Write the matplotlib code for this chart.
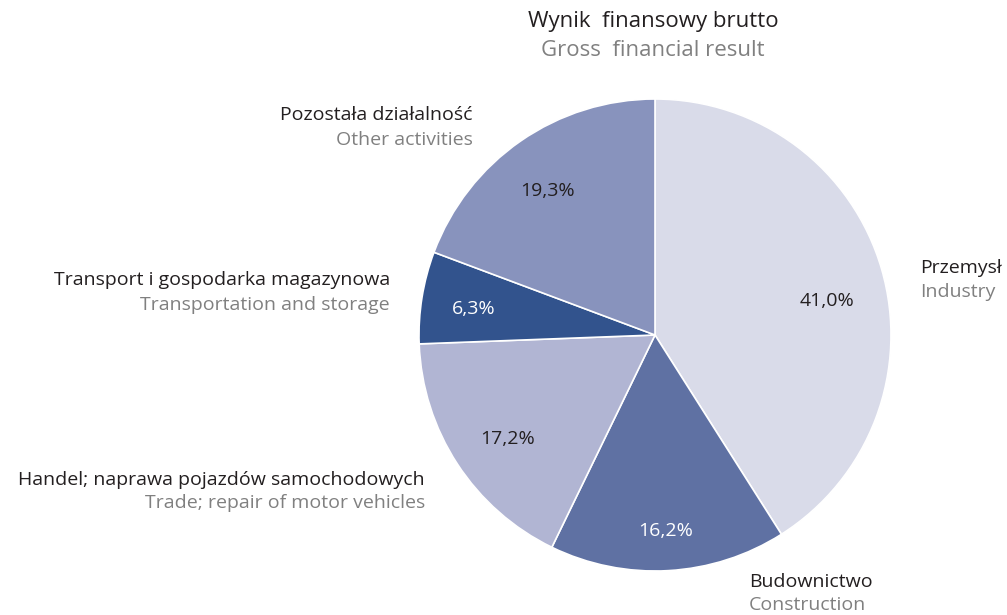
import matplotlib
matplotlib.use("Agg")
import matplotlib.pyplot as plt

categories_pl = ["Przemysł", "Budownictwo", "Handel; naprawa pojazdów samochodowych",
                 "Transport i gospodarka magazynowa", "Pozostała działalność"]
categories_en = ["Industry", "Construction", "Trade; repair of motor vehicles",
                 "Transportation and storage", "Other activities"]
values = [41.0, 16.2, 17.2, 6.3, 19.3]
pct_labels = ["41,0%", "16,2%", "17,2%", "6,3%", "19,3%"]
colors = ["#d9dbe9", "#5f71a3", "#b1b5d3", "#32538d", "#8893bd"]
pct_colors = ["#231f20", "white", "#231f20", "white", "#231f20"]
title_pl = "Wynik  finansowy brutto"
title_en = "Gross  financial result"

W, H = 1007, 615
fig = plt.figure(figsize=(W / 100, H / 100), dpi=100)
ax = fig.add_axes([0, 0, 1, 1])
ax.set_xlim(0, W)
ax.set_ylim(0, H)
ax.set_aspect("equal")
ax.axis("off")

cx, cy, r = 655, H - 335, 236
wedges, _ = ax.pie(values, colors=colors, startangle=90, counterclock=False,
                   center=(cx, cy), radius=r,
                   wedgeprops=dict(edgecolor="white", linewidth=1.2))
ax.set_xlim(0, W)
ax.set_ylim(0, H)

FONT = "Open Sans"
dark = "#231f20"
gray = "#808080"
fs = 14

# percentage labels
pct_pos = [(827, 301), (666, 531), (508, 439), (474, 309), (548, 191)]
for (x, y), t, c in zip(pct_pos, pct_labels, pct_colors):
    ax.text(x, H - y, t, ha="center", va="center", fontsize=fs, color=c, family=FONT)

# category labels: (x, y_pl, y_en, ha)
lab_pos = [(920, 268, 292, "left"), (749, 582, 605, "left"), (425, 480, 503, "right"),
           (390, 280, 305, "right"), (473, 115, 140, "right")]
for (x, y1, y2, ha), pl, en in zip(lab_pos, categories_pl, categories_en):
    ax.text(x, H - y1, pl, ha=ha, va="center", fontsize=fs, color=dark, family=FONT)
    ax.text(x, H - y2, en, ha=ha, va="center", fontsize=fs, color=gray, family=FONT)

ax.text(653, H - 22, title_pl, ha="center", va="center", fontsize=16, color=dark, family=FONT)
ax.text(653, H - 51, title_en, ha="center", va="center", fontsize=16, color=gray, family=FONT)

fig.savefig("out.png", dpi=100)
